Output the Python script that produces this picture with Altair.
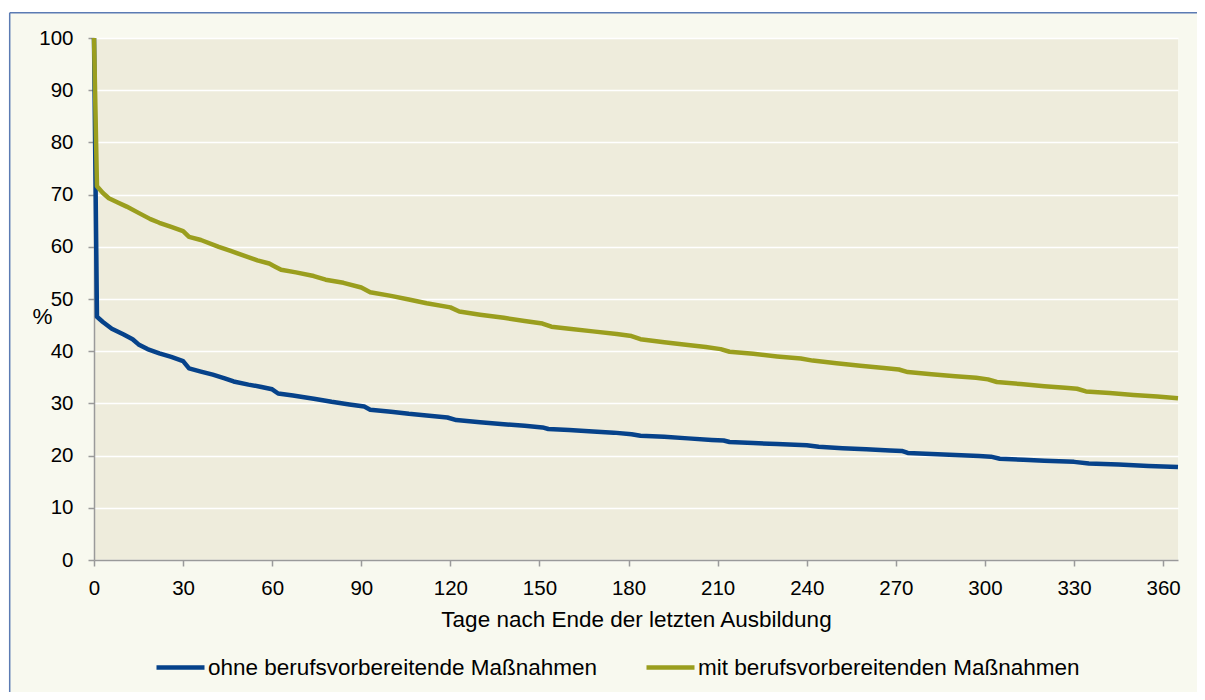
import altair as alt
import pandas as pd

# ---- data ----
blue_days = [0, 1, 3, 6, 10, 13, 15, 18, 22, 26, 30, 32, 36, 40, 44, 47, 52, 56, 60, 62,
             67, 74, 80, 86, 91, 93, 100, 106, 112, 119, 122, 130, 138, 145, 151, 153,
             160, 168, 175, 181, 184, 192, 200, 208, 212, 214, 222, 230, 240, 244, 252,
             260, 268, 272, 274, 282, 290, 298, 302, 305, 313, 320, 330, 335, 345, 355, 365]
blue_vals = [100, 46.6, 45.6, 44.3, 43.2, 42.3, 41.3, 40.4, 39.6, 38.9, 38.1, 36.7, 36.1,
             35.5, 34.8, 34.2, 33.6, 33.2, 32.7, 31.9, 31.5, 30.9, 30.3, 29.8, 29.4, 28.8,
             28.4, 28.0, 27.7, 27.3, 26.8, 26.4, 26.0, 25.7, 25.4, 25.1, 24.9, 24.6, 24.4,
             24.1, 23.8, 23.6, 23.3, 23.0, 22.9, 22.6, 22.4, 22.2, 22.0, 21.7, 21.4, 21.2,
             21.0, 20.9, 20.5, 20.3, 20.1, 19.9, 19.8, 19.4, 19.2, 19.0, 18.8, 18.5, 18.3,
             18.0, 17.8]

olive_days = [0, 1, 3, 5, 8, 11, 15, 19, 22, 26, 30, 32, 36, 42, 46, 50, 55, 59, 61, 63,
              68, 74, 78, 84, 90, 93, 100, 106, 112, 120, 123, 130, 138, 145, 151, 154,
              160, 168, 176, 181, 184, 192, 200, 206, 211, 214, 222, 230, 238, 242, 250,
              258, 266, 271, 274, 282, 290, 297, 301, 304, 312, 320, 327, 331, 334, 342,
              350, 358, 365]
olive_vals = [100, 71.6, 70.3, 69.3, 68.5, 67.7, 66.5, 65.3, 64.6, 63.8, 63.0, 61.9, 61.3,
              60.0, 59.2, 58.4, 57.4, 56.8, 56.2, 55.6, 55.1, 54.4, 53.7, 53.1, 52.2, 51.3,
              50.6, 49.9, 49.2, 48.4, 47.6, 47.0, 46.4, 45.8, 45.3, 44.7, 44.3, 43.8, 43.3,
              42.9, 42.3, 41.7, 41.2, 40.8, 40.4, 39.9, 39.5, 39.0, 38.6, 38.2, 37.7, 37.2,
              36.8, 36.5, 36.0, 35.6, 35.2, 34.9, 34.6, 34.1, 33.7, 33.3, 33.0, 32.8, 32.3,
              32.0, 31.6, 31.3, 31.0]

series_names = ["ohne berufsvorbereitende Maßnahmen", "mit berufsvorbereitenden Maßnahmen"]
series_colors = ["#06428A", "#9A9E1E"]
x_ticks = list(range(0, 361, 30))
y_ticks = list(range(0, 101, 10))

W, H = 1084, 522
FONT = "Liberation Sans"

df_blue = pd.DataFrame({"tag": blue_days, "wert": blue_vals, "reihe": series_names[0]})
df_olive = pd.DataFrame({"tag": olive_days, "wert": olive_vals, "reihe": series_names[1]})
one = pd.DataFrame({"a": [0]})

color = alt.Color(
    "reihe:N",
    scale=alt.Scale(domain=series_names, range=series_colors),
    legend=alt.Legend(
        title=None, orient="none", legendX=60, legendY=603, direction="horizontal",
        symbolType="stroke", symbolSize=2304, symbolStrokeWidth=4.5,
        labelFont=FONT, labelFontSize=22.5, labelColor="#000000", labelOffset=1,
        columnPadding=40, labelLimit=600,
    ),
)

x = alt.X("tag:Q", scale=alt.Scale(domain=[0, 365], nice=False),
          axis=alt.Axis(values=x_ticks, title="Tage nach Ende der letzten Ausbildung",
                        titleY=66, titleBaseline="alphabetic", labelPadding=12,
                        labelFlush=False, grid=False))
y = alt.Y("wert:Q", scale=alt.Scale(domain=[0, 100], nice=False),
          axis=alt.Axis(values=y_ticks, title="%", titleAngle=0, titleX=-52, titleY=278,
                        titleAlign="center", titleBaseline="middle", labelPadding=15))

line_blue = alt.Chart(df_blue).mark_line(strokeWidth=4.5, strokeJoin="round").encode(
    x=x, y=y, color=color)
line_olive = alt.Chart(df_olive).mark_line(strokeWidth=4.5, strokeJoin="round").encode(
    x=x, y=y, color=color)

# white margin strips and outer frame lines (decoration)
strip_top = alt.Chart(one).mark_rect(fill="#FFFFFF").encode(
    x=alt.value(-100), x2=alt.value(W + 300), y=alt.value(-40), y2=alt.value(-25.3))
strip_left = alt.Chart(one).mark_rect(fill="#FFFFFF").encode(
    x=alt.value(-100), x2=alt.value(-84.3), y=alt.value(-40), y2=alt.value(H + 300))
frame_top = alt.Chart(one).mark_rule(stroke="#5B7BB3", strokeWidth=1.5).encode(
    x=alt.value(-84.3), x2=alt.value(W + 300), y=alt.value(-25.3))
frame_left = alt.Chart(one).mark_rule(stroke="#5B7BB3", strokeWidth=1.5).encode(
    x=alt.value(-84.3), y=alt.value(-25.3), y2=alt.value(H + 300))

chart = alt.layer(strip_top, strip_left, frame_top, frame_left, line_blue, line_olive).properties(
    width=W, height=H,
    autosize=alt.AutoSizeParams(type="none"),
    padding={"left": 86, "top": 30, "right": 19, "bottom": 132},
    background="#F8F9EF",
).configure_view(
    fill="#EEECDC", stroke=None,
).configure_axis(
    domainColor="#9A9A9A", domainWidth=1.5,
    tickColor="#9A9A9A", tickWidth=1.5, tickSize=6,
    gridColor="#FFFFFF", gridWidth=1.5,
    labelFont=FONT, labelFontSize=20.5, labelColor="#000000",
    titleFont=FONT, titleFontSize=22.5, titleColor="#000000", titleFontWeight="normal",
)

chart.save("out.html", embed_options={"renderer": "svg", "actions": False})
